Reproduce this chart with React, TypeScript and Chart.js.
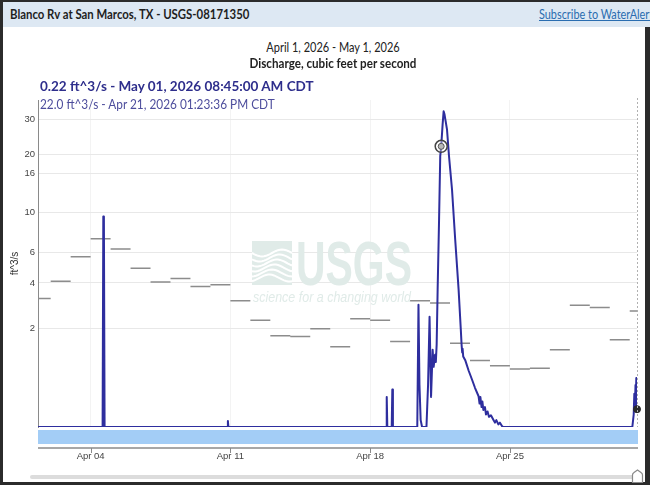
import React, { useEffect, useRef } from "react";
import { Chart, registerables, LinearScale } from "chart.js";

Chart.register(...registerables);

// ---------- data ----------
// x values are days since Apr 1, 2026 00:00 CDT
const xMin = 8.75 / 24; // Apr 1 08:45
const xMax = 30 + 8.75 / 24; // May 1 08:45
const xTickDays = [3, 10, 17, 24];
const xTickLabels = ["Apr 04", "Apr 11", "Apr 18", "Apr 25"];

const yTickValues = [2, 4, 6, 10, 16, 20, 30];
const yMax = 37.6;

// daily median statistic, Apr 1 .. May 1 (ft^3/s)
const medianValues = [
  3.2, 4.1, 5.7, 7.2, 6.3, 4.9, 4.05, 4.25, 3.8, 3.9, 3.1, 2.3, 1.77, 1.75, 2.0, 1.45,
  2.35, 2.3, 1.6, 3.1, 3.0, 1.55, 1.1, 0.98, 0.91, 0.93, 1.37, 2.9, 2.8, 1.65, 2.65,
];

// instantaneous discharge
const dischargeDays = [
  xMin, 3.6, 3.635, 3.665, 3.7, 9.85, 9.875, 9.9, 17.8, 17.83, 17.86, 18.08, 18.11, 18.14,
  19.36, 19.42, 19.47, 19.53, 19.6, 19.82, 19.9, 19.975, 20.05, 20.13, 20.18, 20.25, 20.29,
  20.33, 20.38, 20.45, 20.51, 20.558, 20.63, 20.68, 20.72, 20.78, 20.85, 20.95, 21.1, 21.26,
  21.43, 21.54, 21.58, 21.61, 21.63, 21.66, 21.77, 21.93, 22.1, 22.25, 22.43, 22.48, 22.52,
  22.58, 22.62, 22.67, 22.75, 22.8, 22.88, 22.95, 23.05, 23.17, 23.25, 23.32, 23.42, 23.5,
  23.6, 23.67, 30.13, 30.2, 30.23, 30.26, 30.29, 30.31, 30.33, 30.345, xMax,
];
const dischargeValues = [
  0, 0, 9.5, 9.2, 0, 0, 0.07, 0, 0, 0.4, 0, 0, 0.52, 0,
  0, 2.92, 0.6, 0.08, 0, 0, 0.6, 2.43, 0.4, 1.37, 0.96, 1.24, 1.07,
  1.5, 3.64, 9.0, 19.6, 22.0, 28.5, 33.0, 32.0, 29.5, 26.7, 19.6, 13.2, 7.1,
  3.64, 1.97, 1.5, 1.3, 1.4, 1.2, 1.1, 0.88, 0.7, 0.55, 0.41, 0.3, 0.4,
  0.25, 0.33, 0.21, 0.25, 0.15, 0.19, 0.12, 0.14, 0.085, 0.05, 0.08, 0.03, 0.05,
  0.01, 0, 0, 0.15, 0.45, 0.25, 0.6, 0.4, 0.73, 0.35, 0.22,
];

const cursorDay = 20 + (13 + 23 / 60 + 36 / 3600) / 24; // Apr 21 01:23:36 PM
const cursorValue = 22.0;
const latestDay = xMax;
const latestValue = 0.22;

// ---------- custom symlog scale (d3 scaleSymlog, constant 1) ----------
class SymlogScale extends (LinearScale as any) {
  static id = "symlog";
  static defaults = {};
  buildTicks() {
    return yTickValues.map((v) => ({ value: v }));
  }
  getPixelForValue(value: any) {
    if (value === null || value === undefined || isNaN(value)) return NaN;
    const t0 = Math.log1p(this.min);
    const t1 = Math.log1p(this.max);
    return this.getPixelForDecimal((Math.log1p(value) - t0) / (t1 - t0));
  }
  getValueForPixel(pixel: number) {
    const t0 = Math.log1p(this.min);
    const t1 = Math.log1p(this.max);
    return Math.expm1(t0 + this.getDecimalForPixel(pixel) * (t1 - t0));
  }
}
Chart.register(SymlogScale as any);

const AXIS_FONT = "'Liberation Sans', Arial, sans-serif";
const HTML_FONT = "'Source Sans Pro', Lato, 'Open Sans', sans-serif";

const decorPlugin = {
  id: "decor",
  beforeDatasetsDraw(chart: any) {
    const { ctx, chartArea: a } = chart;
    const cx = (a.left + a.right) / 2;
    const top = a.top + 141;
    const col = "#e0ebe8";
    ctx.save();
    // icon
    const ix = cx - 85.5;
    ctx.fillStyle = col;
    ctx.fillRect(ix, top, 40, 44);
    ctx.strokeStyle = "#ffffff";
    ctx.lineWidth = 2;
    for (let k = 0; k < 6; k++) {
      ctx.beginPath();
      for (let t = 0; t <= 40; t += 2) {
        const yy = top + 12 + k * 5 + 3.5 * Math.sin((t / 40) * Math.PI * 2 + k * 0.4);
        if (t === 0) ctx.moveTo(ix + t, yy);
        else ctx.lineTo(ix + t, yy);
      }
      ctx.stroke();
    }
    // USGS letters
    ctx.fillStyle = col;
    ctx.font = "bold 63px 'Liberation Sans', Arial, sans-serif";
    ctx.textBaseline = "alphabetic";
    const w = ctx.measureText("USGS").width;
    ctx.save();
    ctx.translate(cx - 41.5, top + 44);
    ctx.scale(116 / w, 1);
    ctx.fillText("USGS", 0, 0);
    ctx.restore();
    // tagline
    ctx.font = "italic 15px 'Liberation Sans', Arial, sans-serif";
    const w2 = ctx.measureText("science for a changing world").width;
    ctx.save();
    ctx.translate(cx - 84.5, top + 61);
    ctx.scale(158 / w2, 1);
    ctx.fillText("science for a changing world", 0, 0);
    ctx.restore();
    ctx.restore();
  },
  afterDatasetsDraw(chart: any) {
    const { ctx, chartArea: a, scales } = chart;
    ctx.save();
    // dashed right edge
    ctx.strokeStyle = "#b0b0b0";
    ctx.lineWidth = 1;
    ctx.setLineDash([2, 2]);
    ctx.beginPath();
    ctx.moveTo(Math.round(a.right) + 0.5, a.top - 2);
    ctx.lineTo(Math.round(a.right) + 0.5, a.bottom);
    ctx.stroke();
    ctx.setLineDash([]);
    // availability band
    ctx.fillStyle = "#a3cdf6";
    ctx.fillRect(a.left, a.bottom + 3, a.right - a.left + 1, 14);
    // time axis line + ticks
    ctx.strokeStyle = "#8a8a8a";
    ctx.lineWidth = 1.5;
    ctx.beginPath();
    ctx.moveTo(a.left, a.bottom + 21);
    ctx.lineTo(a.right + 1, a.bottom + 21);
    ctx.stroke();
    ctx.lineWidth = 1;
    xTickDays.forEach((d) => {
      const px = Math.round(scales.x.getPixelForValue(d)) + 0.5;
      ctx.beginPath();
      ctx.moveTo(px, a.bottom + 21);
      ctx.lineTo(px, a.bottom + 26);
      ctx.stroke();
    });
    ctx.restore();
  },
};

export default function App() {
  const ref = useRef<HTMLCanvasElement>(null);
  useEffect(() => {
    const medianData: any[] = [];
    medianValues.forEach((v, i) => {
      medianData.push({ x: i, y: v }, { x: i + 1, y: v }, { x: i + 1, y: null });
    });
    const dischargeData = dischargeDays.map((d, i) => ({ x: d, y: dischargeValues[i] }));
    const chart = new Chart(ref.current as HTMLCanvasElement, {
      type: "line",
      data: {
        datasets: [
          {
            data: [{ x: latestDay, y: latestValue }],
            showLine: false,
            pointRadius: 3.5,
            pointBackgroundColor: "#2a2a2a",
            pointBorderColor: "#2a2a2a",
            clip: false,
          } as any,
          {
            data: [{ x: cursorDay, y: cursorValue }],
            showLine: false,
            pointRadius: 3,
            pointBackgroundColor: "#b8b8b8",
            pointBorderColor: "#555",
            pointBorderWidth: 1,
            clip: false,
          } as any,
          {
            data: [{ x: cursorDay, y: cursorValue }],
            showLine: false,
            pointRadius: 6,
            pointBackgroundColor: "rgba(255,255,255,0.35)",
            pointBorderColor: "#444",
            pointBorderWidth: 1.5,
            clip: false,
          } as any,
          {
            data: dischargeData,
            borderColor: "#2e2e9e",
            borderWidth: 2,
            borderJoinStyle: "round",
            pointRadius: 0,
            tension: 0,
            fill: false,
          } as any,
          {
            data: medianData,
            borderColor: "#8c8c8c",
            borderWidth: 1.5,
            pointRadius: 0,
            spanGaps: false,
            fill: false,
          } as any,
        ],
      },
      options: {
        animation: false,
        responsive: false,
        devicePixelRatio: 1,
        events: [],
        layout: { padding: { top: 30, right: 8, left: 0, bottom: 0 } },
        plugins: { legend: { display: false }, tooltip: { enabled: false } },
        scales: {
          x: {
            type: "linear",
            min: xMin,
            max: xMax,
            bounds: "data",
            afterBuildTicks: (scale: any) => {
              scale.ticks = xTickDays.map((v) => ({ value: v }));
            },
            afterFit: (scale: any) => {
              scale.height = 54;
            },
            grid: { display: true, drawTicks: false, color: "#f3f3f3" },
            border: { display: false },
            ticks: {
              autoSkip: false,
              maxRotation: 0,
              padding: 24,
              color: "#444",
              font: { family: AXIS_FONT, size: 9.5 },
              callback: (v: any) => {
                const i = xTickDays.indexOf(v);
                return i >= 0 ? xTickLabels[i] : "";
              },
            },
          },
          y: {
            type: "symlog" as any,
            min: 0,
            max: yMax,
            afterFit: (scale: any) => {
              scale.width = 35;
            },
            grid: { color: "#e8e8e8", drawTicks: false },
            border: { display: true, color: "#8a8a8a", width: 1 },
            ticks: {
              padding: 3,
              color: "#444",
              font: { family: AXIS_FONT, size: 9.5 },
              callback: (v: any) => String(v),
            },
            title: {
              display: true,
              text: "ft^3/s",
              color: "#333",
              font: { family: AXIS_FONT, size: 10 },
              padding: { top: 6, bottom: 0 },
            },
          } as any,
        },
      } as any,
      plugins: [decorPlugin],
    });
    return () => chart.destroy();
  }, []);

  const abs = (o: React.CSSProperties): React.CSSProperties => ({ position: "absolute", ...o });

  return (
    <div
      style={{
        position: "absolute",
        left: 0,
        top: 0,
        width: 650,
        height: 485,
        background: "#2b2b2b",
        overflow: "hidden",
        fontFamily: HTML_FONT,
      }}
    >
      <div style={abs({ left: 3, top: 2, width: 642, height: 480, background: "#ffffff" })} />
      <div style={abs({ left: 3, top: 2, width: 647, height: 25, background: "#dde8f3" })} />
      <div
        style={abs({
          left: 10,
          top: 7,
          fontSize: 12.5,
          lineHeight: "16px",
          fontWeight: 700,
          color: "#1e1e1e",
          whiteSpace: "nowrap",
          transform: "scaleX(0.91)",
          transformOrigin: "left center",
        })}
      >
        Blanco Rv at San Marcos, TX - USGS-08171350
      </div>
      <div
        style={abs({
          left: 539,
          top: 7,
          fontSize: 12.5,
          lineHeight: "16px",
          color: "#2a6db0",
          textDecoration: "underline",
          whiteSpace: "nowrap",
          transform: "scaleX(0.87)",
          transformOrigin: "left center",
        })}
      >
        Subscribe to WaterAlert
      </div>
      <canvas
        ref={ref}
        width={642}
        height={411}
        style={abs({ left: 3, top: 70, width: 642, height: 411 })}
      />
      <div
        style={abs({
          left: 183,
          width: 300,
          top: 40,
          textAlign: "center",
          fontSize: 12.5,
          lineHeight: "16px",
          color: "#222",
          whiteSpace: "nowrap",
          transform: "scaleX(0.88)",
          transformOrigin: "center center",
        })}
      >
        April 1, 2026 - May 1, 2026
      </div>
      <div
        style={abs({
          left: 183,
          width: 300,
          top: 56,
          textAlign: "center",
          fontSize: 12.5,
          lineHeight: "16px",
          fontWeight: 700,
          color: "#222",
          whiteSpace: "nowrap",
          transform: "scaleX(0.93)",
          transformOrigin: "center center",
        })}
      >
        Discharge, cubic feet per second
      </div>
      <div
        style={abs({
          left: 40,
          top: 78,
          fontSize: 13.5,
          lineHeight: "16px",
          fontWeight: 700,
          color: "#2e2e8c",
          whiteSpace: "nowrap",
        })}
      >
        0.22 ft^3/s - May 01, 2026 08:45:00 AM CDT
      </div>
      <div
        style={abs({
          left: 40,
          top: 96,
          fontSize: 13,
          lineHeight: "16px",
          color: "#4d4d9c",
          whiteSpace: "nowrap",
          transform: "scaleX(0.91)",
          transformOrigin: "left center",
        })}
      >
        22.0 ft^3/s - Apr 21, 2026 01:23:36 PM CDT
      </div>
      <div
        style={abs({ left: 30, top: 475, width: 610, height: 4, background: "#dcdcdc", borderRadius: 2 })}
      />
      <svg style={abs({ left: 631, top: 469, width: 13, height: 14 })} viewBox="0 0 13 14">
        <path
          d="M1.5 13.5 L1.5 6 Q1.5 4.5 3 3.5 L6.5 1 L10 3.5 Q11.5 4.5 11.5 6 L11.5 13.5 Z"
          fill="#ffffff"
          stroke="#8a8a8a"
          strokeWidth="1.2"
        />
      </svg>
    </div>
  );
}
